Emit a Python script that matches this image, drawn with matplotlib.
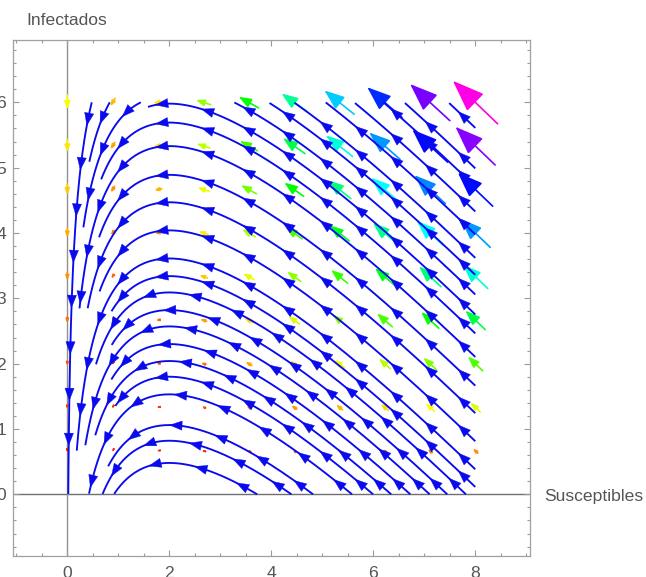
import numpy as np
import matplotlib.pyplot as plt
from matplotlib.patches import FancyArrowPatch
from matplotlib.colors import hsv_to_rgb

plt.rcParams['font.family'] = ['Liberation Sans', 'DejaVu Sans']

# Modelo SIR: dS/dt = -b S I ; dI/dt = b S I - g I
b, g = 1.0, 2.0

# puntos del campo vectorial (10 x 10)
S_pts = np.linspace(0, 8, 10)
I_pts = np.linspace(0, 6, 10)

# trayectorias I + S - (g/b) ln S = C
C_full = [1.094, 1.434, 1.674, 2.144, 2.414, 2.654, 2.914, 3.184, 3.434, 3.704,
          3.954, 4.224, 4.654, 5.084, 5.504, 5.944, 6.304, 6.594]
C_right = [6.90, 7.20, 7.46, 7.82, 8.17, 8.55, 8.83, 9.45]   # salen por arriba
C_left = [7.95, 7.20, 6.71]                                  # entran por arriba
first = [0, 1, 3]          # llegan hasta I = 0 por la izquierda

x_ticks = [0, 2, 4, 6, 8]
y_ticks = [0, 1, 2, 3, 4, 5, 6]

blue = '#0a0aee'

fig = plt.figure(figsize=(6.46, 5.77), dpi=100)
ax = fig.add_axes([13.3 / 646, 21 / 577, 516.4 / 646, 516 / 577])
ax.set_xlim(-1.059, 9.067)
ax.set_ylim(-0.944, 6.954)

to_px = ax.transData.transform
to_data = ax.transData.inverted().transform


def s_left(C, I):
    s = np.geomspace(1e-7, 2, 40000)
    h = C - s + (g / b) * np.log(s)
    return np.interp(I, h, s)


def s_right(C, I):
    s = np.linspace(2, 40, 40000)
    h = C - s + (g / b) * np.log(s)
    return np.interp(I, h[::-1], s[::-1])


def piece(C, s_hi, s_lo, step=1.5):
    s = np.geomspace(s_hi, s_lo, 3000)
    i = C - s + (g / b) * np.log(s)
    p = to_px(np.column_stack([s, np.clip(i, 0, 6)]))
    a = np.concatenate([[0], np.cumsum(np.hypot(*np.diff(p, axis=0).T))])
    t = np.arange(0, a[-1], step)
    return np.column_stack([np.interp(t, a, p[:, 0]), np.interp(t, a, p[:, 1])])


# --- orden de trazado (las primeras tienen prioridad) ---
pieces = [('full', C_full[k]) for k in first]
pieces += [('left', C) for C in C_left]
pieces += [('full', C_full[k]) for k in range(len(C_full) - 1, -1, -1) if k not in first]
pieces += [('right', C) for C in C_right]

s_edge = 8 - (g / b) * np.log(8)
drawn = []
dmin = 8.0
for kind, C in pieces:
    if kind == 'full':
        s_hi = 8 if C >= s_edge else s_right(C, 0)
        P = piece(C, s_hi, s_left(C, 0))
    elif kind == 'left':
        P = piece(C, s_left(C, 6), s_left(C, 0))
    else:
        P = piece(C, 8, s_right(C, 6))
    if drawn and kind != 'right':
        Q = np.vstack(drawn)
        d = np.array([np.hypot(*(Q - q).T).min() for q in P])
        bad = np.where((d < dmin) & (np.arange(len(P)) > 6))[0]
        if len(bad):
            P = P[:bad[0]]
    drawn.append(P)

# --- campo vectorial coloreado por magnitud ---
SS, II = np.meshgrid(S_pts, I_pts)
U = -b * SS * II
V = b * SS * II - g * II
px_u = (to_px(np.column_stack([SS.ravel() + U.ravel() * 1e-3, II.ravel() + V.ravel() * 1e-3]))
        - to_px(np.column_stack([SS.ravel(), II.ravel()]))) * 1e3
plen = np.hypot(px_u[:, 0], px_u[:, 1])
mag = np.hypot(U, V).ravel()
scale = plen.max() / 62.0
for x0, y0, u, v, L, m in zip(SS.ravel(), II.ravel(), U.ravel(), V.ravel(), plen, mag):
    if m == 0:
        continue
    Lp = L / scale
    col = hsv_to_rgb((0.85 * m / mag.max(), 1, 1))
    tail = (x0 - 0.5 * u / scale, y0 - 0.5 * v / scale)
    tip = (x0 + 0.5 * u / scale, y0 + 0.5 * v / scale)
    hl = 0.45 * Lp / 1.389
    hw = 0.17 * Lp / 1.389
    ar = FancyArrowPatch(tail, tip, arrowstyle=f'-|>,head_length={hl:.3f},head_width={hw:.3f}',
                         mutation_scale=1, shrinkA=0, shrinkB=0, color=col, lw=1.2, zorder=2)
    ax.add_patch(ar)

# --- lineas de corriente con flechas ---
for P in drawn:
    if len(P) < 2:
        continue
    D = to_data(P)
    ax.plot(D[:, 0], D[:, 1], color=blue, lw=1.35, zorder=3, solid_capstyle='butt')
    L = (len(P) - 1) * 1.5
    for a in np.arange(24, L - 2, 46):
        k = int(a / 1.5)
        kb = max(k - 5, 0)
        ax.add_patch(FancyArrowPatch(tuple(D[kb]), tuple(D[k]),
                                     arrowstyle='-|>,head_length=8.8,head_width=3.3',
                                     mutation_scale=1, shrinkA=0, shrinkB=0,
                                     color=blue, lw=0.3, zorder=4))

# ejes
ax.axhline(0, color='#707070', lw=1.0, zorder=1)
ax.axvline(0, color='#909090', lw=1.0, zorder=1)

ax.set_xticks(x_ticks)
ax.set_yticks(y_ticks)
ax.set_xticks(np.arange(-1, 9.01, 0.5), minor=True)
ax.set_yticks(np.arange(-0.8, 6.95, 0.2), minor=True)
ax.tick_params(which='both', direction='in', top=True, right=True, color='#9a9a9a',
               labelcolor='#555555', labelsize=12.6, width=0.8)
ax.tick_params(which='major', length=4.5)
ax.tick_params(which='minor', length=2.3)
ax.tick_params(axis='x', pad=7)
ax.tick_params(axis='y', pad=5)
for sp in ax.spines.values():
    sp.set_color('#a0a0a0')
    sp.set_linewidth(0.9)

fig.text(26.7 / 646, 1 - 25 / 577, 'Infectados', color='#555555', fontsize=12.6, va='baseline')
ax.annotate('Susceptibles', xy=(1, 0), xycoords=('axes fraction', 'data'),
            xytext=(10.3, -4.6), textcoords='offset points', va='baseline',
            color='#555555', fontsize=12.6, annotation_clip=False)

fig.savefig('out.png', dpi=100)
